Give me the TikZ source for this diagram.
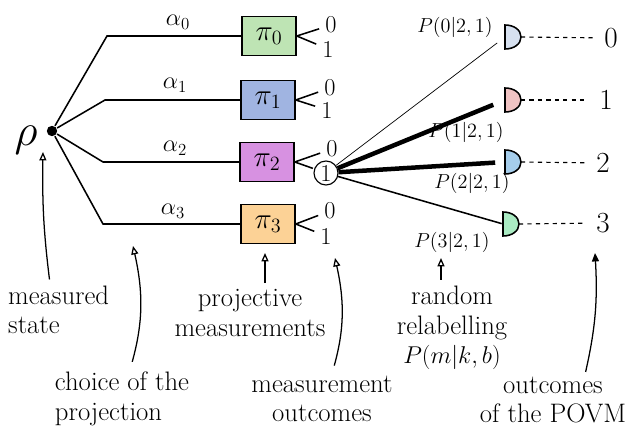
\documentclass[tikz,border=0pt]{standalone}
\usepackage{amsmath}
\usepackage{graphicx}
\usepackage{xcolor}
\definecolor{greenbox}{RGB}{190,228,180}
\definecolor{bluebox}{RGB}{160,180,225}
\definecolor{violetbox}{RGB}{215,145,225}
\definecolor{orangebox}{RGB}{252,210,150}
\definecolor{greydet}{RGB}{215,225,240}
\definecolor{pinkdet}{RGB}{240,195,195}
\definecolor{bluedet}{RGB}{165,205,235}
\definecolor{greendet}{RGB}{170,235,195}
\usetikzlibrary{arrows.meta}
\newcommand{\detector}[4]{%
  \draw[fill=#4] (#2,#3-12) -- (#2,#3+12)
    .. controls (#2+9,#3+12) and (#2+16,#3+7) .. (#2+16,#3)
    .. controls (#2+16,#3-7) and (#2+9,#3-12) .. cycle;
  \coordinate (#1in) at (#2,#3);
  \coordinate (#1out) at (#2+16,#3);
}

\begin{document}
\begin{tikzpicture}[x=0.025cm, y=-0.025cm, line width=1.1pt,
  proj/.style={draw, minimum width=1.35cm, minimum height=0.97cm, inner sep=0pt, font=\huge},
  digit/.style={font=\LARGE, inner sep=2pt},
  plabel/.style={font=\Large},
  notetext/.style={font=\fontsize{19}{21}\selectfont, align=center, inner sep=1pt},
  note/.style={-{Triangle[open, length=6pt, width=5pt]}, line width=0.9pt},
  dashline/.style={dashed, line width=0.8pt, shorten >=4pt}]
  \useasboundingbox (0,0) rectangle (633,431);

  % State and branching point
  \node (rho) at (26,140) {\scalebox{1.55}{\huge$\rho$}};
  \node[circle, fill, inner sep=0pt, minimum size=2.6mm] (src) at (52,131) {};

  % Projective measurements
  \node[proj, fill=greenbox]  (pi0) at (269,36)  {$\pi_0$};
  \node[proj, fill=bluebox]   (pi1) at (268,100) {$\pi_1$};
  \node[proj, fill=violetbox] (pi2) at (267,162) {$\pi_2$};
  \node[proj, fill=orangebox] (pi3) at (268,224) {$\pi_3$};

  % Branches with probabilities
  \coordinate (k0) at (107,36);
  \coordinate (k1) at (105,100);
  \coordinate (k2) at (103,162);
  \coordinate (k3) at (103,224);
  \draw (src) -- (k0) -- (pi0);
  \draw (src) -- (k1) -- (pi1);
  \draw (src) -- (k2) -- (pi2);
  \draw (src) -- (k3) -- (pi3);
  \node[plabel, font=\LARGE] (al0) at (178,22)  {$\alpha_0$};
  \node[plabel, font=\LARGE] (al1) at (175,85)  {$\alpha_1$};
  \node[plabel, font=\LARGE] (al2) at (175,148) {$\alpha_2$};
  \node[plabel, font=\LARGE] (al3) at (173,211) {$\alpha_3$};

  % Outcomes of each projection
  \node[digit] (z0) at (331,25)  {0};
  \node[digit] (u0) at (328,49)  {1};
  \node[digit] (z1) at (330,88)  {0};
  \node[digit] (u1) at (327,110) {1};
  \node[digit] (z2) at (332,149) {0};
  \node[digit, circle, draw, line width=0.8pt, inner sep=0pt, minimum size=0.6cm] (u2) at (326,173) {1};
  \node[digit] (z3) at (330,211) {0};
  \node[digit] (u3) at (326,236) {1};
  \draw[shorten >=2pt] (pi0.east) -- (z0);
  \draw[shorten >=2pt] (pi0.east) -- (u0);
  \draw[shorten >=2pt] (pi1.east) -- (z1);
  \draw[shorten >=2pt] (pi1.east) -- (u1);
  \draw[shorten >=2pt] (pi2.east) -- (z2);
  \draw[shorten >=1pt] (pi2.east) -- (u2);
  \draw[shorten >=2pt] (pi3.east) -- (z3);
  \draw[shorten >=2pt] (pi3.east) -- (u3);

  % Detectors of the POVM
  \detector{d0}{505}{37}{greydet}
  \detector{d1}{505}{100}{pinkdet}
  \detector{d2}{505}{162}{bluedet}
  \detector{d3}{503}{224}{greendet}

  % Random relabelling
  \draw[line width=0.5pt, shorten >=7pt] (u2) -- (d0in);
  \draw[line width=3.2pt, shorten >=9pt] (u2) -- (d1in);
  \draw[line width=3.2pt, shorten >=7pt] (u2) -- (d2in);
  \draw[shorten >=1pt] (u2) -- (d3in);
  \node[plabel] (q0) at (455,27)  {$P(0|2,1)$};
  \node[plabel] (q1) at (466,132) {$P(1|2,1)$};
  \node[plabel] (q2) at (472,183) {$P(2|2,1)$};
  \node[plabel] (q3) at (452,242) {$P(3|2,1)$};

  % Final outcomes
  \node[font=\huge] (m0) at (611,38)  {0};
  \node[font=\huge] (m1) at (606,100) {1};
  \node[font=\huge] (m2) at (603,163) {2};
  \node[font=\huge] (m3) at (603,223) {3};
  \draw[dashline] (d0out) -- (m0);
  \draw[dashline] (d1out) -- (m1);
  \draw[dashline] (d2out) -- (m2);
  \draw[dashline] (d3out) -- (m3);

  % Annotations
  \node[notetext, align=left, anchor=west] (lstate) at (6,310) {measured\\state};
  \node[notetext, align=left] (lproj) at (122,399) {choice of the\\projection};
  \node[notetext] (lpm) at (250,313) {projective\\measurements};
  \node[notetext] (lmo) at (322,399) {measurement\\outcomes};
  \node[notetext] (lrr) at (452,328) {random\\relabelling\\{\LARGE$P(m|k,b)$}};
  \node[notetext] (lpovm) at (553,400) {outcomes\\of the POVM};

  \coordinate (hstate) at (43,152);
  \coordinate (hproj) at (133,246);
  \coordinate (hpm) at (265,253);
  \coordinate (hmo) at (335,258);
  \coordinate (hrr) at (441,258);
  \coordinate (hpovm) at (595,253);
  \draw[note, shorten <=3pt] ([xshift=1.1cm]lstate.north west) to[bend left=4] (hstate);
  \draw[note, shorten <=6pt] ([xshift=0.2cm]lproj.north) to[bend right=14] (hproj);
  \draw[note, shorten <=3pt] (hpm |- lpm.north) -- (hpm);
  \draw[note, shorten <=6pt] ([xshift=0.25cm]lmo.north) to[bend right=14] (hmo);
  \draw[note, shorten <=3pt] (hrr |- lrr.north) -- (hrr);
  \draw[-{Triangle[length=6pt, width=5pt]}, line width=0.9pt, shorten <=2pt]
    ([xshift=0.8cm]lpovm.north) to[bend right=8] (hpovm);
\end{tikzpicture}
\end{document}
